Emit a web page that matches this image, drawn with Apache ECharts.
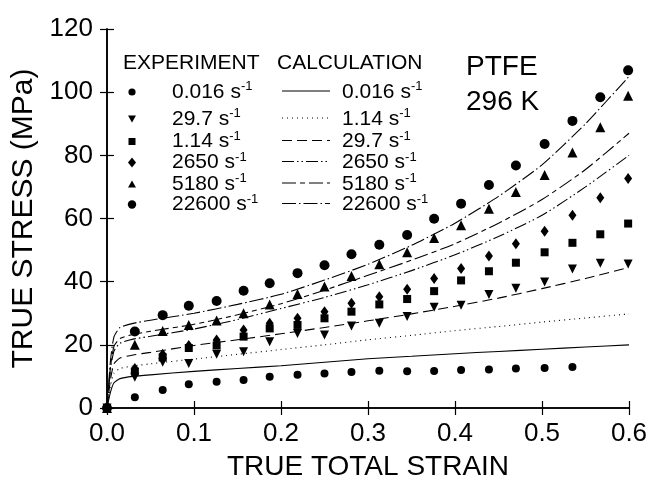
<!DOCTYPE html>
<html>
<head>
<meta charset="utf-8">
<script src="https://cdn.jsdelivr.net/npm/echarts@6/dist/echarts.min.js"></script>
<style>
  html, body { margin: 0; padding: 0; background: #fff; }
  #chart { width: 651px; height: 489px; }
</style>
</head>
<body>
<div id="chart"></div>
<script>
// ---- measured data: true stress (MPa) vs true total strain for PTFE at 296 K ----
const expStrain = [0, 0.032, 0.064, 0.094, 0.126, 0.157, 0.187, 0.219, 0.250, 0.281,
                   0.313, 0.345, 0.376, 0.407, 0.439, 0.470, 0.503, 0.535, 0.567, 0.599];

const stress0016  = [0, 3.4, 5.7, 7.5, 8.3, 8.9, 9.9, 10.5, 10.9, 11.4, 11.8, 11.6, 11.7, 12.0, 12.2, 12.5, 12.7, 13.0];
const stress297   = [0, 9.7, 14.5, 14.1, 17.0, 17.8, 21.0, 23.6, 23.1, 26.0, 26.8, 29.0, 31.9, 32.5, 35.9, 37.9, 39.9, 44.0, 45.8, 45.6];
const stress114   = [0, 11.5, 16.0, 19.0, 19.8, 22.6, 25.2, 26.3, 28.4, 30.5, 32.8, 34.5, 37.0, 40.4, 43.3, 46.0, 49.3, 52.3, 55.0, 58.4];
const stress2650  = [0, 12.5, 17.0, 19.8, 21.5, 24.7, 26.8, 28.4, 30.5, 33.2, 35.2, 37.6, 41.0, 44.2, 48.1, 52.0, 56.0, 61.0, 66.6, 72.7];
const stress5180  = [0, 20.0, 24.4, 26.3, 27.7, 30.0, 32.8, 36.1, 38.5, 41.8, 45.5, 49.3, 53.8, 57.9, 63.1, 68.4, 73.8, 80.9, 88.9, 98.9];
const stress22600 = [0, 24.2, 29.4, 32.4, 33.9, 37.1, 39.5, 42.7, 45.2, 48.7, 51.7, 54.8, 59.9, 64.7, 70.6, 76.8, 83.6, 90.9, 98.4, 106.9];

// ---- model calculation ----
const calcStrain = [0, 0.004, 0.008, 0.015, 0.03, 0.05, 0.1, 0.15, 0.2, 0.25, 0.3, 0.35, 0.4, 0.45, 0.5, 0.55, 0.6];

const calc0016  = [0, 5, 8, 9.3, 10.0, 10.5, 11.6, 12.5, 13.4, 14.5, 15.6, 16.4, 17.2, 17.9, 18.6, 19.3, 20.0];
const calc114   = [0, 7, 11, 12.5, 13.3, 14.0, 15.5, 17.0, 18.5, 20.0, 21.6, 23.0, 24.5, 25.8, 27.2, 28.5, 29.8];
const calc297   = [0, 9, 14, 15.8, 16.8, 17.6, 19.8, 21.6, 23.5, 25.5, 27.6, 29.8, 32.2, 34.8, 37.8, 41.0, 44.5];
const calc2650  = [0, 12, 18, 20.5, 21.8, 22.7, 25.0, 28.0, 31.5, 35.0, 39.0, 43.5, 48.5, 54.3, 61.0, 70.0, 80.0];
const calc5180  = [0, 13, 19.5, 22, 23.3, 24.3, 26.5, 29.5, 33.0, 37.3, 42.0, 46.8, 52.0, 58.5, 66.0, 75.5, 87.0];
const calc22600 = [0, 15, 22.5, 25.5, 26.8, 27.8, 30.0, 32.8, 36.0, 40.5, 45.5, 51.5, 58.5, 67.0, 77.0, 90.0, 105.0];

// ---- text ----
const expLabels  = ['0.016', '29.7', '1.14', '2650', '5180', '22600'];
const calcLabels = ['0.016', '1.14', '29.7', '2650', '5180', '22600'];
const xTicks = [0, 0.1, 0.2, 0.3, 0.4, 0.5, 0.6];
const yTicks = [0, 20, 40, 60, 80, 100, 120];

// ---- styling ----
const FONT = "'Liberation Sans', Arial, sans-serif";
const INK = '#000';

const expStyles = [
  { symbol: 'circle',   rotate: 0,   size: 8 },
  { symbol: 'triangle', rotate: 180, size: 9 },
  { symbol: 'rect',     rotate: 0,   size: 8 },
  { symbol: 'diamond',  rotate: 0,   size: [8, 11] },
  { symbol: 'triangle', rotate: 0,   size: 10 },
  { symbol: 'circle',   rotate: 0,   size: 10 }
];
const expValues = [stress0016, stress297, stress114, stress2650, stress5180, stress22600];

const calcDash = ['solid', [1, 4], [10, 5], [12, 3, 1.5, 3, 1.5, 3], [14, 4, 5, 4], [14, 3, 1.5, 3]];
const calcValues = [calc0016, calc114, calc297, calc2650, calc5180, calc22600];

const series = [];
calcValues.forEach((vals, i) => {
  series.push({
    type: 'line',
    name: 'calc ' + calcLabels[i],
    data: vals.map((v, k) => [calcStrain[k], v]),
    symbol: 'none',
    smooth: 0.2,
    lineStyle: { color: INK, width: 1.1, type: calcDash[i], opacity: 1 },
    z: 2,
    silent: true
  });
});
expValues.forEach((vals, i) => {
  const st = expStyles[i];
  series.push({
    type: 'scatter',
    name: 'exp ' + expLabels[i],
    data: vals.map((v, k) => [expStrain[k], v]),
    symbol: st.symbol,
    symbolRotate: st.rotate,
    symbolSize: st.size,
    itemStyle: { color: INK, opacity: 1 },
    z: 3,
    silent: true
  });
});

// ---- legend block and annotation, drawn as graphic elements ----
const rowY = [92, 119, 141.5, 162.5, 184, 204.5];
const supText = (num) => ({
  text: '{n|' + num + ' s}{s|-1}',
  rich: {
    n: { fontSize: 21, fontFamily: FONT, fill: INK, lineHeight: 24 },
    s: { fontSize: 13, fontFamily: FONT, fill: INK, lineHeight: 13, verticalAlign: 'top' }
  }
});

function legendMarker(kind, cx, cy) {
  const fill = { fill: INK };
  if (kind === 'circle') return { type: 'circle', shape: { cx, cy, r: 3.6 }, style: fill };
  if (kind === 'bigcircle') return { type: 'circle', shape: { cx, cy, r: 4.2 }, style: fill };
  if (kind === 'down') return { type: 'polygon', shape: { points: [[cx - 4, cy - 3.5], [cx + 4, cy - 3.5], [cx, cy + 3.5]] }, style: fill };
  if (kind === 'up') return { type: 'polygon', shape: { points: [[cx - 4, cy + 3.5], [cx + 4, cy + 3.5], [cx, cy - 3.5]] }, style: fill };
  if (kind === 'rect') return { type: 'rect', shape: { x: cx - 3.5, y: cy - 3.5, width: 7, height: 7 }, style: fill };
  return { type: 'polygon', shape: { points: [[cx, cy - 5], [cx + 4, cy], [cx, cy + 5], [cx - 4, cy]] }, style: fill };
}
const legendKinds = ['circle', 'down', 'rect', 'diamond', 'up', 'bigcircle'];

const graphics = [
  { type: 'text', x: 123, y: 63, style: { text: 'EXPERIMENT', fontSize: 21, fontFamily: FONT, fill: INK, verticalAlign: 'middle' } },
  { type: 'text', x: 277, y: 63, style: { text: 'CALCULATION', fontSize: 21, fontFamily: FONT, fill: INK, verticalAlign: 'middle' } },
  { type: 'text', x: 466, y: 67, style: { text: 'PTFE', fontSize: 28, fontFamily: FONT, fill: INK, verticalAlign: 'middle' } },
  { type: 'text', x: 466, y: 102, style: { text: '296 K', fontSize: 28, fontFamily: FONT, fill: INK, verticalAlign: 'middle' } }
];
expLabels.forEach((lab, i) => {
  graphics.push(legendMarker(legendKinds[i], 132, rowY[i]));
  graphics.push({ type: 'text', x: 172, y: rowY[i], style: Object.assign(supText(lab), { verticalAlign: 'middle' }) });
});
calcLabels.forEach((lab, i) => {
  const d = calcDash[i];
  graphics.push({
    type: 'line',
    shape: { x1: 282, y1: rowY[i] - 1, x2: 330, y2: rowY[i] - 1 },
    style: { stroke: INK, lineWidth: 1.1, lineDash: d === 'solid' ? null : d }
  });
  graphics.push({ type: 'text', x: 342, y: rowY[i], style: Object.assign(supText(lab), { verticalAlign: 'middle' }) });
});

const tickCommon = { show: true, inside: true, length: 7, lineStyle: { color: INK, width: 1.2 } };
const lineCommon = { show: true, lineStyle: { color: INK, width: 1.6 } };

const chart = echarts.init(document.getElementById('chart'), null, { renderer: 'canvas' });
chart.setOption({
  backgroundColor: '#fff',
  animation: false,
  grid: { left: 107, right: 22, top: 29, bottom: 81, containLabel: false, outerBoundsMode: 'none' },
  xAxis: [
    {
      type: 'value', min: xTicks[0], max: xTicks[xTicks.length - 1], interval: 0.1,
      position: 'bottom',
      name: 'TRUE TOTAL STRAIN', nameLocation: 'middle', nameGap: 45,
      nameTextStyle: { fontSize: 28, fontFamily: FONT, color: INK },
      axisLine: lineCommon, axisTick: tickCommon, splitLine: { show: false },
      axisLabel: { fontSize: 26, fontFamily: FONT, color: INK, margin: 13, formatter: v => v.toFixed(1) }
    },
    {
      type: 'value', min: xTicks[0], max: xTicks[xTicks.length - 1], interval: 0.1,
      position: 'top', axisLine: lineCommon, axisTick: tickCommon,
      axisLabel: { show: false }, splitLine: { show: false }
    }
  ],
  yAxis: [
    {
      type: 'value', min: yTicks[0], max: yTicks[yTicks.length - 1], interval: 20,
      position: 'left',
      name: 'TRUE STRESS (MPa)', nameLocation: 'middle', nameGap: 63,
      nameTextStyle: { fontSize: 30, fontFamily: FONT, color: INK },
      axisLine: lineCommon, axisTick: tickCommon, splitLine: { show: false },
      axisLabel: { fontSize: 26, fontFamily: FONT, color: INK, margin: 14 }
    },
    {
      type: 'value', min: yTicks[0], max: yTicks[yTicks.length - 1], interval: 20,
      position: 'right', axisLine: lineCommon, axisTick: tickCommon,
      axisLabel: { show: false }, splitLine: { show: false }
    }
  ],
  series: series,
  graphic: graphics
});
</script>
</body>
</html>
